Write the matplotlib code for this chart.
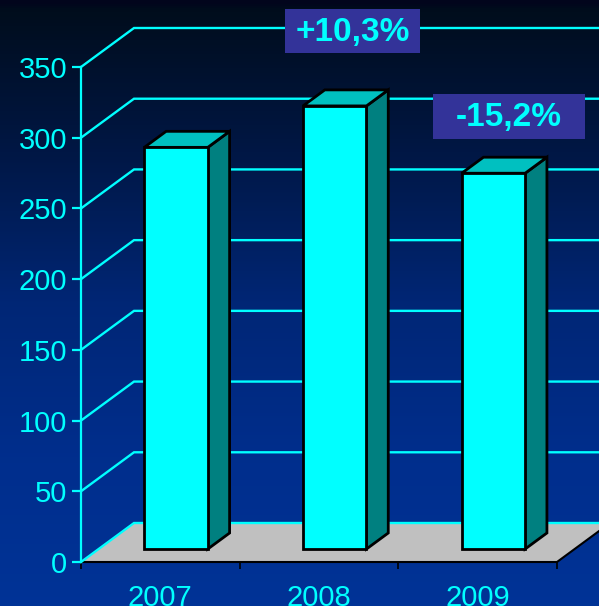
import matplotlib.pyplot as plt
import numpy as np
from matplotlib.colors import LinearSegmentedColormap
from matplotlib.patches import Polygon, Rectangle

# --- Data ---
years = ["2007", "2008", "2009"]
values = [284.0, 313.3, 265.7]
changes = ["+10,3%", "-15,2%"]
y_ticks = [0, 50, 100, 150, 200, 250, 300, 350]

# --- Style ---
CYAN = "#00FFFF"
SIDE = "#008080"
TOP = "#00C0C0"
FLOOR = "#C0C0C0"
BOX = "#333399"
plt.rcParams["font.family"] = ["Liberation Sans", "DejaVu Sans"]

W, H = 599, 606
fig = plt.figure(figsize=(W / 100, H / 100), dpi=100)

# background gradient (dark navy at top, blue at bottom)
bg = fig.add_axes([0, 0, 1, 1])
bg.set_axis_off()
grad_cmap = LinearSegmentedColormap.from_list(
    "bg",
    [(0.0, (0.01, 0.02, 0.11)), (0.012, (0.0, 0.05, 0.11)),
     (0.25, (0.0, 0.09, 0.27)), (0.5, (0.0, 0.15, 0.46)),
     (0.75, (0.0, 0.18, 0.55)), (1.0, (0.0, 0.2, 0.59))])
bg.imshow(np.linspace(0, 1, 300)[:, None], aspect="auto", cmap=grad_cmap,
          extent=[0, 1, 0, 1])

# plot area: front plane of the 3D box
ax = fig.add_axes([81 / W, 44 / H, 476 / W, 495 / H])
ax.set_facecolor("none")
ax.set_xlim(0, 3)
ax.set_ylim(0, 350)

# depth offset of the full box, in data units
DX = 53 / (476 / 3)
DY = 39 / (495 / 350)


def proj(x, y, d):
    return (x + d * DX, y + d * DY)


def face(pts, color, z, lw=2.0, ec="black"):
    ax.add_patch(Polygon([proj(*p) for p in pts], closed=True, fc=color,
                         ec=ec, lw=lw, zorder=z, clip_on=False,
                         joinstyle="miter"))


# floor
n = len(years)
face([(0, 0, 0), (n, 0, 0), (n, 0, 1), (0, 0, 1)], FLOOR, 1, lw=0, ec="none")
ax.plot(*zip(proj(0, 0, 0), proj(n, 0, 0), proj(n, 0, 1)), color="black",
        lw=1.5, zorder=1.5, clip_on=False)

# gridlines on the side and back walls
for v in y_ticks:
    pts = [proj(0, v, 0), proj(0, v, 1), proj(n, v, 1)]
    ax.plot(*zip(*pts), color=CYAN, lw=1.7, zorder=2, clip_on=False,
            solid_joinstyle="miter")

# bars
d0, d1 = 0.333, 0.744
half = 0.2
for i, v in enumerate(values):
    xc = i + 0.488
    x0, x1 = xc - half, xc + half
    face([(x1, 0, d0), (x1, 0, d1), (x1, v, d1), (x1, v, d0)], SIDE, 3)
    face([(x0, v, d0), (x1, v, d0), (x1, v, d1), (x0, v, d1)], TOP, 3)
    face([(x0, 0, d0), (x1, 0, d0), (x1, v, d0), (x0, v, d0)], CYAN, 3)

# axes and ticks
for s in ["top", "right", "bottom"]:
    ax.spines[s].set_visible(False)
ax.spines["left"].set_color(CYAN)
ax.spines["left"].set_linewidth(1.6)
ax.set_yticks(y_ticks)
ax.tick_params(axis="y", colors=CYAN, length=6.5, width=1.6, pad=3.5,
               labelsize=21)
ax.set_xticks(range(n + 1))
ax.set_xticklabels([])
ax.tick_params(axis="x", which="major", color="black", length=5, width=1.2)
ax.set_xticks([i + 0.5 for i in range(n)], minor=True)
ax.set_xticklabels(years, minor=True)
ax.tick_params(axis="x", which="minor", length=0, pad=16, labelsize=21,
               labelcolor=CYAN)

# percentage change boxes
boxes = [(285, 9, 135, 44), (433, 94, 152, 45)]
for (bx, by, bw, bh), label in zip(boxes, changes):
    fig.add_artist(Rectangle((bx / W, 1 - (by + bh) / H), bw / W, bh / H,
                             transform=fig.transFigure, fc=BOX, ec="none",
                             zorder=5))
    fig.text((bx + bw / 2) / W, 1 - (by + bh / 2 + 1) / H, label,
             ha="center", va="center", fontsize=24, fontweight="bold",
             color=CYAN, zorder=6)

fig.savefig("out.png", dpi=100)
